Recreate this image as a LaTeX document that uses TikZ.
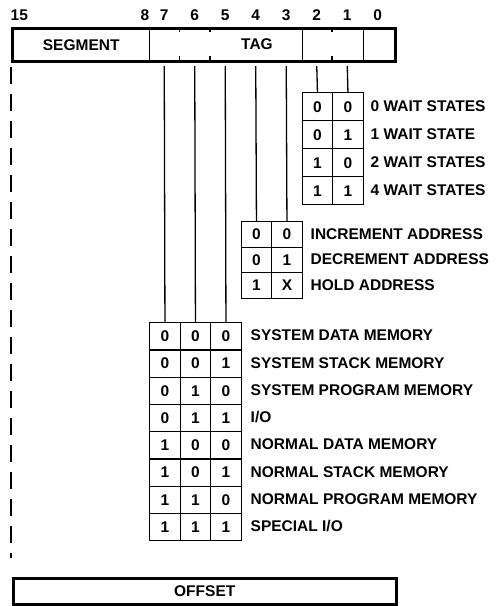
\documentclass[tikz,border=0pt]{standalone}
\usepackage{fontspec}
\setmainfont{Liberation Sans}
\usetikzlibrary{positioning}

\begin{document}
\begin{tikzpicture}[
  x=1pt, y=-1pt, line width=1.4pt,
  font=\fontsize{15.5}{18}\selectfont\bfseries,
  field/.style={draw,rectangle,inner sep=0pt,minimum height=32pt,anchor=north west},
  cell/.style={draw,rectangle,inner sep=0pt,minimum width=30.5pt,anchor=north west},
  code/.style={anchor=west,inner sep=0pt},
  bitnum/.style={inner sep=0pt},
  wire/.style={line width=1.3pt},
  guide/.style={line width=1.3pt,dash pattern=on 17pt off 10pt}
]
\useasboundingbox (0,0) rectangle (496,606);

% --- Register word ---
\node[field,minimum width=137pt] (seg) at (12,28) {SEGMENT};
\node[field,minimum width=152.5pt] (tag) at (149,28) {};
\node[field,minimum width=61pt] (ws) at (301.5,28) {};
\node[field,minimum width=32pt] (b0) at (362.5,28) {};
\draw[line width=3pt] (seg.north west) rectangle (b0.south east);
\node (tagtxt) at (257,44) {TAG};
\foreach \x in {179.5,210,332} {
  \draw (\x,28) -- ++(0,4);
  \draw (\x,60) -- ++(0,-4);
}

% --- Bit numbers ---
\node[bitnum,anchor=west] (n15) at (10,15) {15};
\node[bitnum] (n8) at (145,15) {8};
\foreach \b [evaluate=\b as \x using 164.25+30.5*(7-\b)] in {0,...,7} {
  \node[bitnum] (n\b) at (\x,15) {\b};
  \coordinate (t\b) at (\x,66);
}

% --- Wait states (bits 2,1) ---
\foreach \p/\q/\txt [count=\i, evaluate=\i as \y using 92+28*(\i-1)] in
  {0/0/0 WAIT STATES, 0/1/1 WAIT STATE, 1/0/2 WAIT STATES, 1/1/4 WAIT STATES} {
  \node[cell,minimum height=28pt] (w\i-a) at (301.5,\y) {\p};
  \node[cell,minimum height=28pt] (w\i-b) at (332,\y) {\q};
  \node[code] (w\i-t) at (370,\y+14) {\txt};
}

% --- Address mode (bits 4,3) ---
\foreach \p/\q/\txt [count=\i, evaluate=\i as \y using 221+25.5*(\i-1)] in
  {0/0/INCREMENT ADDRESS, 0/1/DECREMENT ADDRESS, 1/X/HOLD ADDRESS} {
  \node[cell,minimum height=25.5pt] (a\i-a) at (240.5,\y) {\p};
  \node[cell,minimum height=25.5pt] (a\i-b) at (271,\y) {\q};
  \node[code] (a\i-t) at (310,\y+12.75) {\txt};
}

% --- Memory space (bits 7,6,5) ---
\foreach \p/\q/\r/\txt [count=\i, evaluate=\i as \y using 322+27.25*(\i-1)] in
  {0/0/0/SYSTEM DATA MEMORY, 0/0/1/SYSTEM STACK MEMORY,
   0/1/0/SYSTEM PROGRAM MEMORY, 0/1/1/{I/O},
   1/0/0/NORMAL DATA MEMORY, 1/0/1/NORMAL STACK MEMORY,
   1/1/0/NORMAL PROGRAM MEMORY, 1/1/1/{SPECIAL I/O}} {
  \node[cell,minimum height=27.25pt] (m\i-a) at (149,\y) {\p};
  \node[cell,minimum height=27.25pt] (m\i-b) at (179.5,\y) {\q};
  \node[cell,minimum height=27.25pt] (m\i-c) at (210,\y) {\r};
  \node[code] (m\i-t) at (250,\y+13.6) {\txt};
}

% --- Bit wires ---
\draw[wire] (t2) -- (w1-a.north);
\draw[wire] (t1) -- (w1-b.north);
\draw[wire] (t4) -- (a1-a.north);
\draw[wire] (t3) -- (a1-b.north);
\draw[wire] (t7) -- (m1-a.north);
\draw[wire] (t6) -- (m1-b.north);
\draw[wire] (t5) -- (m1-c.north);

% --- Offset word ---
\coordinate (dtop) at (11,67);
\coordinate (dbot) at (11,558);
\draw[guide] (dtop) -- (dbot);
\node[field,minimum width=382.5pt,minimum height=26pt,line width=3pt] (off) at (12,577) {OFFSET};

\end{tikzpicture}
\end{document}
